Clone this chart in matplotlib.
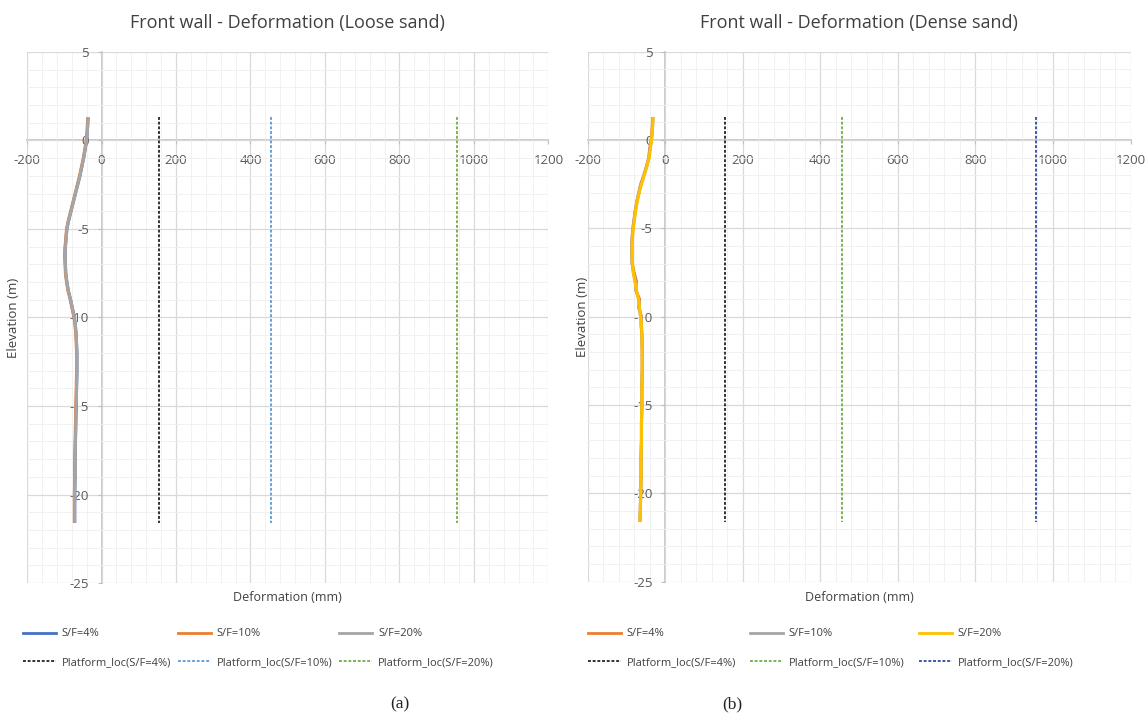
import matplotlib.pyplot as plt
from matplotlib.lines import Line2D
from matplotlib.ticker import MultipleLocator

# Elevation of the wall nodes (m), shared by every deformation profile
elevation = [1.3, 0.5, 0, -0.5, -1, -1.5, -2, -2.5, -3, -3.5, -4, -4.5, -5, -5.5,
             -6, -6.5, -7, -7.5, -8, -8.5, -9, -9.5, -10, -10.5, -11, -12, -13,
             -14, -15, -16, -17, -18, -19, -20, -21, -21.6]

# Loose sand: lateral deformation (mm)
loose_sf4 = [-36, -38, -40, -44, -48, -53, -58, -64, -70, -76, -82, -88, -93, -95,
             -97, -98, -97, -96, -93, -89, -83, -78, -73, -70, -68, -66, -66,
             -67, -68, -69, -70, -71, -71, -72, -72, -72]
loose_sf10 = [-37, -39, -41, -45, -49, -54, -59, -65, -71, -77, -83, -89, -94, -96,
              -98, -99, -98, -97, -94, -90, -84, -79, -74, -71, -69, -67, -67,
              -68, -69, -70, -71, -72, -72, -73, -73, -73]
loose_sf20 = [-36, -38, -40, -44, -48, -53, -58, -64, -70, -76, -82, -88, -93, -95,
              -97, -98, -97, -96, -93, -89, -83, -78, -73, -70, -68, -66, -66,
              -67, -68, -69, -70, -71, -71, -72, -72, -72]

# Dense sand: lateral deformation (mm)
dense_sf4 = [-32, -34, -36, -40, -42, -48, -55, -63, -68, -73, -77, -80, -83, -85,
             -86, -86, -85, -80, -74, -76, -66, -68, -61, -62, -60, -59, -59,
             -60, -60, -61, -61, -62, -62, -63, -64, -65]
dense_sf10 = [-31, -33, -35, -39, -42, -48, -55, -62, -68, -73, -77, -80, -83, -85,
              -86, -86, -85, -82, -77, -75, -68, -67, -62, -61, -60, -59, -59,
              -60, -60, -61, -61, -62, -62, -63, -64, -65]
dense_sf20 = [-31, -33, -35, -38, -41, -47, -54, -61, -67, -72, -76, -79, -82, -84,
              -85, -85, -84, -82, -78, -74, -69, -66, -63, -61, -60, -59, -59,
              -60, -60, -61, -61, -62, -62, -63, -64, -65]

# Platform locations (mm from the wall) and their vertical extent (m)
platform_loc = [155, 455, 955]
platform_top = 1.3
platform_bottom = -21.6

sf_labels = ["S/F=4%", "S/F=10%", "S/F=20%"]
platform_labels = ["Platform_loc(S/F=4%)", "Platform_loc(S/F=10%)", "Platform_loc(S/F=20%)"]

BLUE = "#4472C4"
ORANGE = "#ED7D31"
GRAY = "#A5A5A5"
YELLOW = "#FFC000"
LIGHT_BLUE = "#5B9BD5"
GREEN = "#70AD47"
DARK_BLUE = "#2E4A9E"
TEXT = "#595959"
DARK_TEXT = "#404040"

plt.rcParams["font.family"] = ["Open Sans", "DejaVu Sans"]

fig = plt.figure(figsize=(11.46, 7.15), dpi=100)


def style_axes(ax):
    ax.set_xlim(-200, 1200)
    ax.set_ylim(-25, 5)
    ax.xaxis.set_major_locator(MultipleLocator(200))
    ax.xaxis.set_minor_locator(MultipleLocator(40))
    ax.yaxis.set_major_locator(MultipleLocator(5))
    ax.yaxis.set_minor_locator(MultipleLocator(1))
    ax.grid(which="major", color="#d9d9d9", lw=0.9)
    ax.grid(which="minor", color="#efefef", lw=0.6)
    ax.set_axisbelow(True)
    # Excel style: the axes cross at the origin
    for side in ("top", "right"):
        ax.spines[side].set_visible(False)
    ax.spines["left"].set_position(("data", 0))
    ax.spines["bottom"].set_position(("data", 0))
    for side in ("left", "bottom"):
        ax.spines[side].set_color("#bfbfbf")
        ax.spines[side].set_linewidth(1.2)
        ax.spines[side].set_zorder(0.5)
    ax.tick_params(which="major", length=3, color="#bfbfbf", labelsize=9.5, labelcolor=TEXT)
    ax.tick_params(which="minor", length=0)
    ax.tick_params(axis="x", pad=7)
    ax.tick_params(axis="y", pad=6)
    ax.set_xticks([-200, 0, 200, 400, 600, 800, 1000, 1200])
    ax.set_xticklabels(["-200", "0", "200", "400", "600", "800", "1000", "1200"])
    ax.set_yticks([5, 0, -5, -10, -15, -20, -25])
    ax.set_yticklabels(["5", "0", "-5", "-10", "-15", "-20", "-25"])


def draw_panel(rect, title, profiles, platform_colors, caption, caption_x,
               legend_x, col_space, ylabel_x):
    ax = fig.add_axes(rect)
    style_axes(ax)
    handles = []
    for (values, color), label in zip(profiles, sf_labels):
        ax.plot(values, elevation, color=color, lw=2.2, solid_capstyle="butt")
        handles.append(Line2D([], [], color=color, lw=2.0, label=label))
    for loc, color, label in zip(platform_loc, platform_colors, platform_labels):
        ax.plot([loc, loc], [platform_top, platform_bottom], color=color, lw=1.3,
                dashes=(1.6, 1.0))
        handles.append(Line2D([], [], color=color, lw=1.3, dashes=(1.6, 1.0), label=label))

    cx = rect[0] + rect[2] / 2
    fig.text(cx, 0.968, title, ha="center", va="center", fontsize=13, color=DARK_TEXT)
    fig.text(cx, 0.165, "Deformation (mm)", ha="center", va="center", fontsize=9,
             color=DARK_TEXT)
    fig.text(ylabel_x, rect[1] + rect[3] * 0.5, "Elevation (m)", rotation=90,
             ha="center", va="center", fontsize=9.5, color=DARK_TEXT)

    # row 1: wall profiles, row 2: platform locations
    order = [handles[0], handles[3], handles[1], handles[4], handles[2], handles[5]]
    fig.legend(handles=order, labels=[h.get_label() for h in order], ncol=3,
               loc="upper left", bbox_to_anchor=(legend_x, 0.121), frameon=False,
               fontsize=8, handlelength=3.0, handletextpad=0.5, columnspacing=col_space,
               labelspacing=1.55, labelcolor=DARK_TEXT, borderaxespad=0, borderpad=0)
    fig.text(caption_x, 0.004, caption, ha="center", va="bottom", fontsize=12.5,
             family=["Liberation Serif", "DejaVu Serif"], color="#222222")
    return ax


draw_panel([0.0236, 0.1846, 0.4549, 0.7427], "Front wall - Deformation (Loose sand)",
           [(loose_sf4, BLUE), (loose_sf10, ORANGE), (loose_sf20, GRAY)],
           ["#222222", LIGHT_BLUE, GREEN], "(a)", 0.349, 0.020, 0.6, 0.012)
draw_panel([0.5127, 0.1864, 0.4738, 0.7413], "Front wall - Deformation (Dense sand)",
           [(dense_sf4, ORANGE), (dense_sf10, GRAY), (dense_sf20, YELLOW)],
           ["#222222", GREEN, DARK_BLUE], "(b)", 0.639, 0.513, 1.25, 0.508)

fig.savefig("out.png", dpi=100)
